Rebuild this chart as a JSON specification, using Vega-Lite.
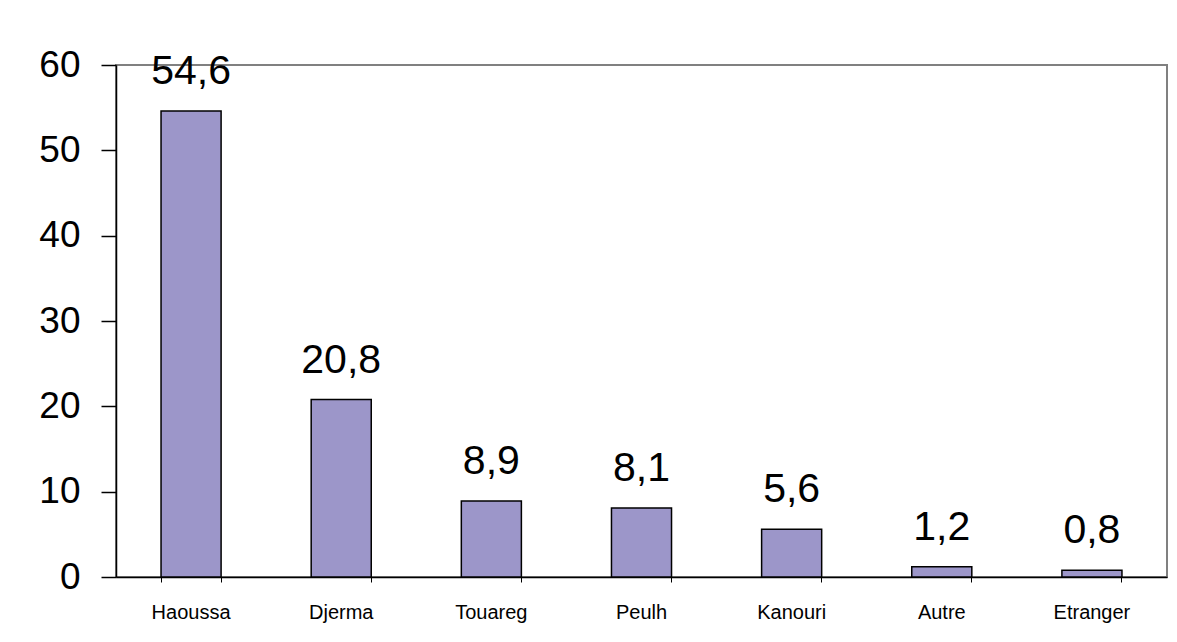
{
  "$schema": "https://vega.github.io/schema/vega-lite/v6.json",
  "width": 1051,
  "height": 512,
  "autosize": {"type": "none"},
  "padding": {"left": 116, "top": 65, "right": 10, "bottom": 65},
  "background": "white",
  "config": {
    "font": "Liberation Sans",
    "view": {"stroke": "#808080", "strokeWidth": 2},
    "locale": {"number": {"decimal": ",", "thousands": " ", "grouping": [3], "currency": ["", " €"]}}
  },
  "data": {"values": [
    {"groupe": "Haoussa", "pct": 54.6},
    {"groupe": "Djerma", "pct": 20.8},
    {"groupe": "Touareg", "pct": 8.9},
    {"groupe": "Peulh", "pct": 8.1},
    {"groupe": "Kanouri", "pct": 5.6},
    {"groupe": "Autre", "pct": 1.2},
    {"groupe": "Etranger", "pct": 0.8}
  ]},
  "encoding": {
    "x": {
      "field": "groupe", "type": "nominal", "sort": null,
      "scale": {"paddingInner": 0.6, "paddingOuter": 0.3},
      "axis": {
        "title": null, "labelAngle": 0, "labelFontSize": 20, "labelColor": "black",
        "domainColor": "black", "domainWidth": 1.5, "tickColor": "black", "tickSize": 5,
        "bandPosition": 1, "tickExtra": true, "labelPadding": 20, "labelBaseline": "top"
      }
    },
    "y": {
      "field": "pct", "type": "quantitative",
      "scale": {"domain": [0, 60], "nice": false},
      "axis": {
        "title": null, "values": [0, 10, 20, 30, 40, 50, 60], "grid": false,
        "labelFontSize": 37, "labelColor": "black", "labelPadding": 21,
        "domainColor": "black", "domainWidth": 1.5, "tickColor": "black", "tickSize": 15, "tickWidth": 1.5
      }
    }
  },
  "layer": [
    {"mark": {"type": "bar", "color": "#9C96C9", "stroke": "black", "strokeWidth": 1.5}},
    {"mark": {"type": "text", "fontSize": 41, "baseline": "alphabetic", "dy": -27, "color": "black"},
     "encoding": {"text": {"field": "pct", "type": "quantitative", "format": ".1f"}}}
  ]
}
